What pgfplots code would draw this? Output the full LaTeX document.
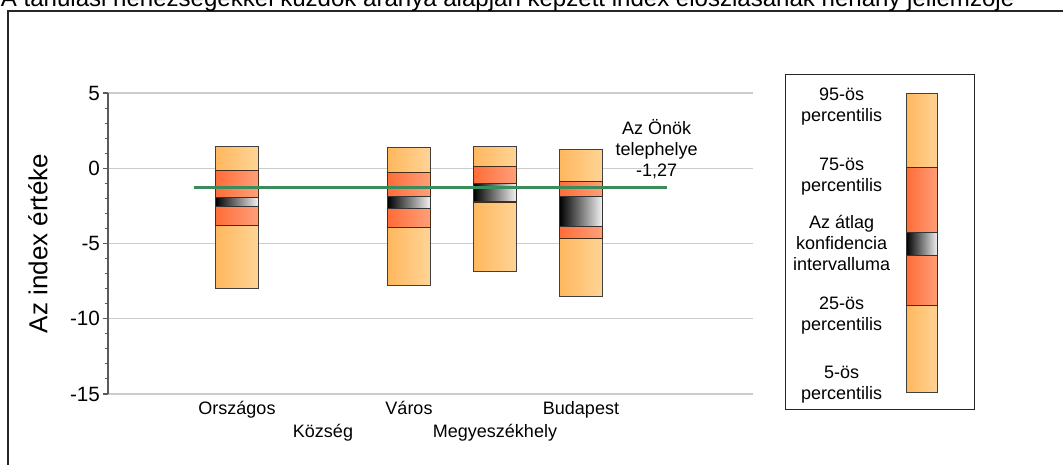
\documentclass[border=0pt]{standalone}
\usepackage{fontspec}
\setmainfont{Liberation Sans}
\usepackage{pgfplots}
\pgfplotsset{compat=1.18}
\definecolor{outL}{HTML}{FFB75E}
\definecolor{outR}{HTML}{FFD496}
\definecolor{midL}{HTML}{FF6C38}
\definecolor{midR}{HTML}{FFA07A}
\definecolor{ciL}{HTML}{000000}
\definecolor{ciR}{HTML}{F4F4F4}
\definecolor{grn}{HTML}{3A8C5C}
\definecolor{grd}{HTML}{CCCCCC}
\definecolor{axc}{HTML}{5A5A5A}
% \boxes{xl}{xr}{p5}{p25}{cilo}{cihi}{p75}{p95}
\newcommand{\boxes}[8]{%
  \addplot[draw=black!75, line width=0.75pt, left color=outL, right color=outR]
    coordinates {(#1,#3) (#2,#3) (#2,#8) (#1,#8)} -- cycle;
  \addplot[draw=black!65!brown, line width=0.75pt, left color=midL, right color=midR]
    coordinates {(#1,#4) (#2,#4) (#2,#7) (#1,#7)} -- cycle;
  \addplot[draw=black!80, line width=0.75pt, left color=ciL, right color=ciR]
    coordinates {(#1,#5) (#2,#5) (#2,#6) (#1,#6)} -- cycle;
}
\newcommand{\fs}{\fontsize{13.5}{15.75}\selectfont}
\begin{document}
\begin{tikzpicture}
\useasboundingbox (-81pt,-52.5pt) rectangle (716.25pt,295.5pt);
\draw[line width=1.5pt, black!85] (-75.2pt,-80pt) -- (-75.2pt,287.5pt) -- (760pt,287.5pt);
\node[anchor=base west, inner sep=0pt] at (-80.5pt,290.5pt)
  {\resizebox{760pt}{!}{\fs A tanulási nehézségekkel küzdők aránya alapján képzett index eloszlásának néhány jellemzője}};
\begin{axis}[
  at={(0pt,0pt)}, anchor=south west,
  scale only axis, width=483.75pt, height=225.75pt,
  xmin=-1.5, xmax=6, ymin=-15, ymax=5,
  clip=false,
  axis x line*=bottom, axis y line*=left,
  x axis line style={grd, line width=0.8pt, -},
  y axis line style={axc, line width=1.1pt, -},
  ytick={-15,-10,-5,0,5},
  minor y tick num=4,
  tick align=outside,
  major tick length=4pt, minor tick length=2.5pt,
  ytick style={axc, line width=0.8pt},
  ymajorgrids, grid style={grd, line width=0.8pt},
  xtick={0,2,4},
  xticklabels={Országos,Város,Budapest},
  extra x ticks={1,3},
  extra x tick labels={Község,Megyeszékhely},
  extra x tick style={xticklabel style={yshift=-17.5pt}, grid=none},
  xtick style={draw=none},
  xticklabel style={font=\fs, yshift=2pt},
  yticklabel style={font=\fontsize{15.5}{18}\selectfont, xshift=1.5pt},
  /pgf/number format/assume math mode=true,
]
\boxes{-0.25}{0.25}{-7.97}{-3.83}{-2.57}{-1.95}{-0.13}{1.43}
\boxes{1.75}{2.25}{-7.80}{-3.92}{-2.70}{-1.89}{-0.27}{1.35}
\boxes{2.75}{3.25}{-6.89}{-2.28}{-2.22}{-1.04}{0.11}{1.46}
\boxes{3.75}{4.25}{-8.50}{-4.68}{-3.90}{-1.89}{-0.89}{1.24}
\addplot[grn, line width=2.25pt] coordinates {(-0.5,-1.27) (5.0,-1.27)};
\node[align=center, font=\fs] at (axis cs:4.88,1.3) {Az Önök\\telephelye\\-1,27};
% legend
\draw[black!85, line width=0.8pt] (axis cs:6.38,6.2) rectangle (axis cs:8.58,-16.05);
\boxes{7.78}{8.15}{-14.91}{-9.09}{-5.83}{-4.30}{0.07}{4.97}
\node[align=center, font=\fs] at (axis cs:7.03,4.07) {95-ös\\percentilis};
\node[align=center, font=\fs] at (axis cs:7.03,-0.58) {75-ös\\percentilis};
\node[align=center, font=\fs] at (axis cs:7.03,-4.96) {Az átlag\\konfidencia\\intervalluma};
\node[align=center, font=\fs] at (axis cs:7.03,-9.78) {25-ös\\percentilis};
\node[align=center, font=\fs] at (axis cs:7.03,-14.4) {5-ös\\percentilis};
\node[rotate=90, font=\fontsize{19.5}{22}\selectfont] at (rel axis cs:-0.1085,0.5) {Az index értéke};
\end{axis}
\end{tikzpicture}
\end{document}
